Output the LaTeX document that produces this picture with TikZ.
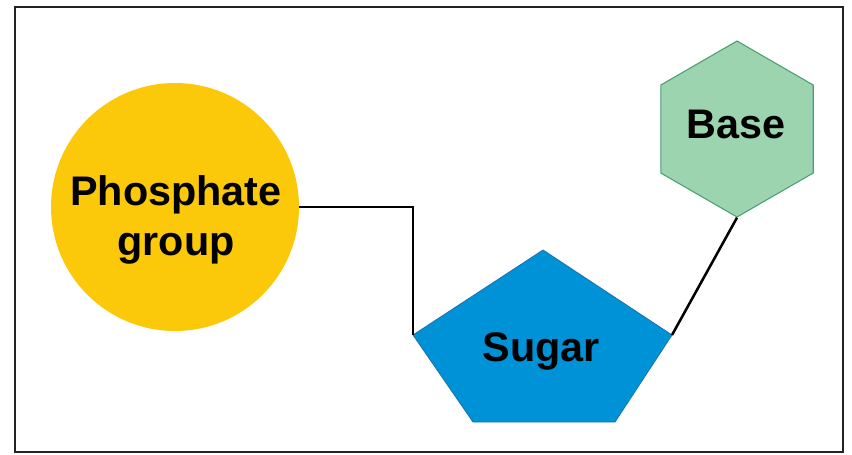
\documentclass[tikz,border=0pt]{standalone}
\usepackage{fontspec}
\setmainfont{Liberation Sans}
\usetikzlibrary{positioning,shapes.geometric}

\definecolor{phosyellow}{RGB}{252,200,10}
\definecolor{sugarblue}{RGB}{0,146,214}
\definecolor{sugaredge}{RGB}{25,115,170}
\definecolor{basegreen}{RGB}{155,212,175}
\definecolor{baseedge}{RGB}{75,160,115}
\definecolor{boxgray}{RGB}{35,35,35}

\begin{document}
\begin{tikzpicture}[x=0.75pt,y=-0.75pt]
	\useasboundingbox (0,0) rectangle (852,454);
	\begin{scope}
		\tikzstyle{every node}=[align=center, inner sep=0pt, font=\fontsize{31}{37.5}\selectfont\bfseries]
		\tikzstyle{link}=[line width=1.9pt, black]

		\draw [boxgray, line width=1.9pt] (15,7) rectangle (843,452);

		% shapes
		\node (phos) [circle, fill=phosyellow, minimum size=186pt] at (175,207) {};
		\node (base) [regular polygon, regular polygon sides=6, shape border rotate=30,
			fill=basegreen, draw=baseedge, line width=0.8pt, minimum size=132pt] at (737,129) {};

		\coordinate (sgtop) at (543,250);
		\coordinate (sgr)   at (672,335);
		\coordinate (sgbr)  at (615,422);
		\coordinate (sgbl)  at (473,422);
		\coordinate (sgl)   at (413,335);
		\draw [fill=sugarblue, draw=sugaredge, line width=0.6pt]
			(sgtop) -- (sgr) -- (sgbr) -- (sgbl) -- (sgl) -- cycle;

		% labels
		\node (phostext)  at (176,220) {Phosphate\\group};
		\node (sugartext) at (541,351) {Sugar};
		\node (basetext)  at (736,124) {Base};

		% bonds
		\draw [link] (phos.east) -| (sgl);
		\draw [link] (base.south) -- (sgr);
	\end{scope}
\end{tikzpicture}
\end{document}
